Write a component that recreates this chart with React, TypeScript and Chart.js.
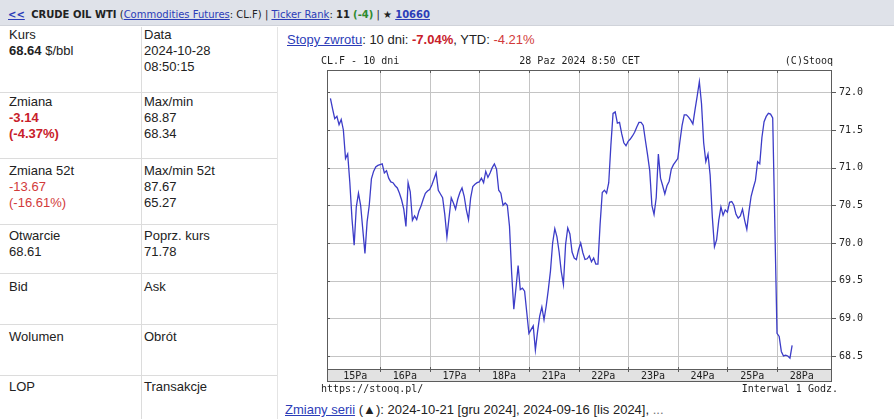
import React, { useEffect, useRef } from 'react';
import { Chart, registerables } from 'chart.js';

Chart.register(...registerables);

// ---- data (hourly closes) ----
const dayLabels = ['15Pa', '16Pa', '17Pa', '18Pa', '21Pa', '22Pa', '23Pa', '24Pa', '25Pa', '28Pa'];
const oct15 = [71.92, 71.78, 71.65, 71.68, 71.57, 71.64, 71.50, 71.12, 71.18, 70.80, 70.32, 69.97, 70.48, 70.66, 70.50, 70.18, 69.86, 70.28, 70.50, 70.85, 70.95, 71.01, 71.03];
const oct16 = [71.04, 71.05, 70.93, 70.96, 70.86, 70.81, 70.80, 70.76, 70.73, 70.66, 70.57, 70.45, 70.22, 70.80, 70.68, 70.30, 70.36, 70.31, 70.42, 70.49, 70.58, 70.66, 70.69];
const oct17 = [70.71, 70.77, 70.85, 70.93, 70.70, 70.65, 70.60, 70.38, 70.08, 70.34, 70.60, 70.53, 70.45, 70.58, 70.67, 70.73, 70.62, 70.44, 70.31, 70.60, 70.75, 70.78, 70.80];
const oct18 = [70.81, 70.86, 70.80, 70.95, 70.87, 70.93, 71.00, 71.05, 70.98, 70.70, 70.66, 70.50, 70.53, 70.50, 70.22, 69.60, 69.12, 69.40, 69.70, 69.38, 69.40, 69.36, 69.08];
const oct21 = [68.80, 68.85, 68.90, 68.58, 68.82, 69.03, 69.15, 68.98, 69.16, 69.38, 69.63, 70.00, 70.19, 70.08, 69.88, 69.62, 69.45, 69.98, 70.20, 70.12, 69.88, 69.80, 69.78];
const oct22 = [69.91, 70.00, 69.87, 69.78, 69.79, 69.83, 69.75, 69.80, 69.72, 69.72, 70.25, 70.67, 70.70, 70.66, 70.80, 71.30, 71.72, 71.74, 71.59, 71.60, 71.45, 71.33, 71.29];
const oct23 = [71.35, 71.38, 71.42, 71.47, 71.54, 71.60, 71.60, 71.56, 71.36, 71.17, 70.96, 70.50, 70.38, 70.60, 71.18, 70.86, 70.76, 70.65, 70.76, 70.82, 70.98, 71.04, 71.08];
const oct24 = [71.12, 71.35, 71.56, 71.70, 71.70, 71.67, 71.63, 71.58, 71.77, 71.95, 72.14, 71.85, 71.33, 71.08, 71.18, 70.90, 70.35, 69.95, 70.04, 70.30, 70.48, 70.37, 70.44];
const oct25 = [70.41, 70.54, 70.55, 70.50, 70.38, 70.33, 70.36, 70.45, 70.30, 70.18, 70.42, 70.62, 70.73, 70.83, 71.08, 71.05, 71.40, 71.61, 71.68, 71.72, 71.71, 71.66];
const oct28 = [68.80, 68.76, 68.56, 68.50, 68.51, 68.50, 68.47, 68.64];
const dayValues = [oct15, oct16, oct17, oct18, oct21, oct22, oct23, oct24, oct25, oct28];
const hoursPerDay = 23;
const dayBoundaries = [1, 2, 3, 4, 5, 6, 7, 8, 9];
const yTickValues = [68.5, 69.0, 69.5, 70.0, 70.5, 71.0, 71.5, 72.0];
const yMin = 68.327;
const yMax = 72.296;
const xMin = -0.069;
const xMax = 10.108;

const MONO = '"DejaVu Sans Mono", monospace';
const LINK = '#2b3cb8';
const RED = '#c8202a';
const GRID = '#c4c4c4';
const FRAME = '#5c5c5c';

function StooqChart() {
  const ref = useRef<HTMLCanvasElement>(null);
  useEffect(() => {
    if (!ref.current) return;
    const points: { x: number; y: number }[] = [];
    dayValues.forEach((vals, d) => vals.forEach((v, h) => points.push({ x: d + h / hoursPerDay, y: v })));

    const xPix = (chart: any, v: number) => {
      const a = chart.chartArea;
      const p = chart.scales.x ? chart.scales.x.getPixelForValue(v) : NaN;
      return Math.round(Number.isFinite(p) ? p : a.left + ((v - xMin) / (xMax - xMin)) * (a.right - a.left));
    };
    const yPix = (chart: any, v: number) => {
      const a = chart.chartArea;
      const p = chart.scales.y ? chart.scales.y.getPixelForValue(v) : NaN;
      return Math.round(Number.isFinite(p) ? p : a.bottom - ((v - yMin) / (yMax - yMin)) * (a.bottom - a.top));
    };

    const frame = {
      id: 'stooqFrame',
      beforeDraw(chart: any) {
        const { ctx, chartArea: a } = chart;
        const band = chart.scales.xl;
        ctx.save();
        ctx.fillStyle = '#ffffff';
        ctx.fillRect(0, 0, chart.width, chart.height);
        ctx.fillStyle = '#e2e2e2';
        ctx.fillRect(a.left, band.top, a.right - a.left, band.bottom - band.top);
        ctx.restore();
      },
      beforeDatasetsDraw(chart: any) {
        const { ctx, chartArea: a } = chart;
        ctx.save();
        ctx.globalAlpha = 1;
        ctx.globalCompositeOperation = 'source-over';
        ctx.fillStyle = GRID;
        dayBoundaries.forEach((d) => {
          ctx.fillRect(xPix(chart, d), a.top, 1, a.bottom - a.top);
        });
        yTickValues.forEach((v) => {
          ctx.fillRect(a.left, yPix(chart, v), a.right - a.left, 1);
        });
        ctx.restore();
      },
      afterDraw(chart: any) {
        const { ctx, chartArea: a, scales } = chart;
        const band = scales.xl;
        ctx.save();
        ctx.fillStyle = FRAME;
        const W = a.right - a.left;
        ctx.fillRect(a.left, a.top, W, 1);
        ctx.fillRect(a.left, a.bottom, W, 1);
        ctx.fillRect(a.left, band.bottom - 1, W, 1);
        ctx.fillRect(a.left, a.top, 1, band.bottom - a.top);
        ctx.fillRect(a.right - 1, a.top, 1, band.bottom - a.top);
        dayBoundaries.forEach((d) => {
          const px = xPix(chart, d);
          ctx.fillRect(px, a.top, 1, 3);
          ctx.fillRect(px, a.bottom - 2, 1, 5);
        });
        yTickValues.forEach((v) => {
          const py = yPix(chart, v);
          ctx.fillRect(a.left, py, 3, 1);
          ctx.fillRect(a.right, py, 4, 1);
        });

        ctx.fillStyle = '#1e1e1e';
        ctx.font = '10px ' + MONO;
        ctx.textBaseline = 'middle';
        const hy = a.top - 9;
        const fy = band.bottom + 7;
        ctx.textAlign = 'left';
        ctx.fillText('CL.F - 10 dni', a.left - 6, hy);
        ctx.fillText('https://stooq.pl/', a.left - 6, fy);
        ctx.textAlign = 'center';
        ctx.fillText('28 Paz 2024 8:50 CET', (a.left + a.right) / 2, hy);
        ctx.textAlign = 'right';
        ctx.fillText('(C)Stooq', a.right + 1, hy);
        ctx.fillText('Interwal 1 Godz.', a.right + 6, fy);
        ctx.restore();
      },
    };

    const chart = new Chart(ref.current, {
      type: 'line',
      data: {
        datasets: [
          {
            data: points,
            borderColor: '#3c3cc8',
            borderWidth: 1.3,
            pointRadius: 0,
            tension: 0,
            fill: false,
          },
        ],
      },
      options: {
        animation: false,
        responsive: false,
        maintainAspectRatio: false,
        layout: { padding: { left: 27, top: 22, right: 0, bottom: 18 } },
        plugins: { legend: { display: false }, tooltip: { enabled: false } },
        scales: {
          x: {
            type: 'linear',
            position: 'bottom',
            min: xMin,
            max: xMax,
            afterBuildTicks: (s: any) => {
              s.ticks = dayBoundaries.map((v) => ({ value: v }));
            },
            afterFit: (s: any) => {
              s.height = 0;
            },
            grid: { display: false, drawTicks: false },
            border: { display: false },
            ticks: { display: false },
          },
          xl: {
            type: 'linear',
            position: 'bottom',
            min: xMin,
            max: xMax,
            afterBuildTicks: (s: any) => {
              s.ticks = dayLabels.map((_, i) => ({ value: i + 0.5 }));
            },
            afterFit: (s: any) => {
              s.height = 13;
            },
            grid: { display: false, drawTicks: false },
            border: { display: false },
            ticks: {
              callback: (_v: any, i: number) => dayLabels[i],
              font: { family: MONO, size: 10 },
              color: '#1e1e1e',
              padding: 1,
              maxRotation: 0,
              autoSkip: false,
            },
          },
          y: {
            position: 'right',
            min: yMin,
            max: yMax,
            afterBuildTicks: (s: any) => {
              s.ticks = yTickValues.map((v) => ({ value: v }));
            },
            afterFit: (s: any) => {
              s.width = 62;
            },
            grid: { display: false, drawTicks: false },
            border: { display: false },
            ticks: {
              callback: (v: any) => Number(v).toFixed(1),
              font: { family: MONO, size: 10 },
              color: '#1e1e1e',
              padding: 7,
              autoSkip: false,
            },
          },
        },
      },
      plugins: [frame],
    } as any);
    return () => chart.destroy();
  }, []);
  return (
    <canvas
      ref={ref}
      width={594}
      height={352}
      style={{ position: 'absolute', left: 300, top: 48, width: 594, height: 352 }}
    />
  );
}

const rowLines = [92, 158, 224, 273, 324, 375];
const textTops = [27, 94, 163, 228, 279, 329, 379];

export default function App() {
  const cell = (top: number, left: number, content: React.ReactNode) => (
    <div style={{ position: 'absolute', top, left, lineHeight: '16px', whiteSpace: 'nowrap' }}>{content}</div>
  );
  const link: React.CSSProperties = { color: LINK, textDecoration: 'underline' };
  return (
    <div
      style={{
        position: 'fixed',
        left: 0,
        top: 0,
        width: 894,
        height: 419,
        overflow: 'hidden',
        background: '#ffffff',
        fontFamily: '"Liberation Sans", Arial, sans-serif',
        fontSize: 13,
        color: '#222',
      }}
    >
      <div
        style={{
          position: 'absolute',
          left: 0,
          top: 0,
          width: 894,
          height: 26,
          background: '#dfe2e9',
          borderBottom: '1px solid #d0d3da',
          fontFamily: '"DejaVu Sans", Verdana, sans-serif',
          fontSize: 10,
          lineHeight: '26px',
          paddingTop: 2,
          boxSizing: 'border-box',
          paddingLeft: 8,
          whiteSpace: 'nowrap',
          color: '#222',
        }}
      >
        <span style={{ ...link, fontWeight: 'bold' }}>&lt;&lt;</span>
        &nbsp;&nbsp;<b>CRUDE OIL WTI</b> (<span style={link}>Commodities Futures</span>: CL.F) |{' '}
        <span style={link}>Ticker Rank</span>: <b>11</b> <b style={{ color: '#2e8b2e' }}>(-4)</b> | ★{' '}
        <b style={link}>10660</b>
      </div>

      {rowLines.map((y) => (
        <div key={y} style={{ position: 'absolute', left: 0, top: y, width: 277, height: 1, background: '#dcdcdc' }} />
      ))}
      <div style={{ position: 'absolute', left: 141, top: 27, width: 1, height: 392, background: '#dcdcdc' }} />
      <div style={{ position: 'absolute', left: 277, top: 27, width: 1, height: 392, background: '#e4e4e4' }} />

      {cell(textTops[0], 9, <>Kurs<br /><b>68.64</b> $/bbl</>)}
      {cell(textTops[0], 144, <>Data<br />2024-10-28<br />08:50:15</>)}
      {cell(textTops[1], 9, <>Zmiana<br /><b style={{ color: RED }}>-3.14</b><br /><b style={{ color: RED }}>(-4.37%)</b></>)}
      {cell(textTops[1], 144, <>Max/min<br />68.87<br />68.34</>)}
      {cell(textTops[2], 9, <>Zmiana 52t<br /><span style={{ color: '#d23a3a' }}>-13.67</span><br /><span style={{ color: '#d23a3a' }}>(-16.61%)</span></>)}
      {cell(textTops[2], 144, <>Max/min 52t<br />87.67<br />65.27</>)}
      {cell(textTops[3], 9, <>Otwarcie<br />68.61</>)}
      {cell(textTops[3], 144, <>Poprz. kurs<br />71.78</>)}
      {cell(textTops[4], 9, <>Bid</>)}
      {cell(textTops[4], 144, <>Ask</>)}
      {cell(textTops[5], 9, <>Wolumen</>)}
      {cell(textTops[5], 144, <>Obrót</>)}
      {cell(textTops[6], 9, <>LOP</>)}
      {cell(textTops[6], 144, <>Transakcje</>)}

      {cell(32, 287, <><span style={link}>Stopy zwrotu</span>: 10 dni: <b style={{ color: RED }}>-7.04%</b>, YTD: <span style={{ color: '#d23a3a' }}>-4.21%</span></>)}

      <StooqChart />

      {cell(402, 285, <><span style={link}>Zmiany serii</span> (▲): 2024-10-21 [gru 2024], 2024-09-16 [lis 2024], <span style={{ color: '#777' }}>...</span></>)}
    </div>
  );
}
